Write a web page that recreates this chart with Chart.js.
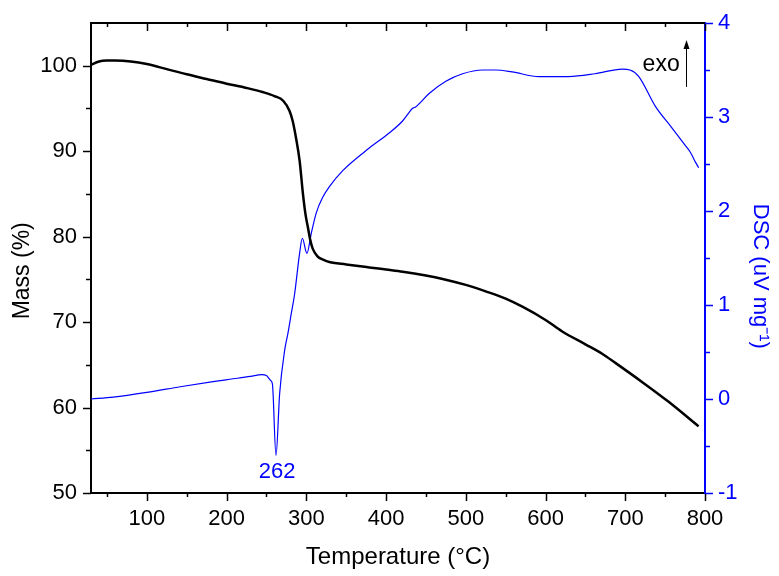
<!DOCTYPE html>
<html>
<head>
<meta charset="utf-8">
<script src="https://cdn.jsdelivr.net/npm/chart.js@4/dist/chart.umd.min.js"></script>
<style>
  html, body { margin: 0; padding: 0; background: #fff; }
  #wrap { width: 779px; height: 576px; }
</style>
</head>
<body>
<div id="wrap"><canvas id="chart"></canvas></div>
<script>
// TG curve (mass %)
const massTemp = [30, 40, 50, 60, 80, 100, 125, 150, 175, 200, 225, 246, 260, 271, 279, 283, 287, 291.6, 295.8, 299, 302, 305, 308, 314, 321, 330, 350, 379, 400, 421, 450, 471, 500, 525, 550, 571, 600, 621, 650, 671, 688, 721, 754, 792];
const massVal  = [100.1, 100.5, 100.6, 100.6, 100.5, 100.2, 99.6, 99.0, 98.45, 97.9, 97.4, 96.9, 96.45, 95.9, 94.7, 93.5, 91.6, 88.9, 85.0, 82.6, 81.1, 79.6, 78.6, 77.7, 77.3, 77.0, 76.75, 76.4, 76.15, 75.9, 75.45, 75.05, 74.35, 73.6, 72.75, 71.8, 70.25, 68.9, 67.4, 66.3, 65.2, 63.0, 60.7, 57.8];

// DSC curve (uV/mg)
const dscTemp = [30, 58, 100, 142, 183, 204, 230, 244, 250, 255, 257.5, 262, 266.6, 272.9, 277, 281.2, 285.4, 291.6, 295, 300.8, 306.2, 312.5, 320.8, 329, 345.7, 379, 404, 421, 429, 433, 437.5, 454, 475, 496, 521, 538, 558, 592, 629, 662, 696, 706, 717, 738, 758, 775, 782, 788, 792];
const dscVal  = [0.0, 0.02, 0.07, 0.13, 0.185, 0.21, 0.24, 0.26, 0.25, 0.20, 0.16, -0.6, 0.06, 0.52, 0.70, 0.91, 1.12, 1.55, 1.71, 1.55, 1.76, 1.98, 2.15, 2.26, 2.43, 2.67, 2.83, 2.96, 3.05, 3.09, 3.11, 3.25, 3.38, 3.46, 3.50, 3.50, 3.48, 3.43, 3.43, 3.46, 3.51, 3.50, 3.43, 3.11, 2.89, 2.70, 2.62, 2.52, 2.46];

// tick labels
const xTicks = [100, 200, 300, 400, 500, 600, 700, 800];
const massTicks = [50, 60, 70, 80, 90, 100];
const dscTicks = [-1, 0, 1, 2, 3, 4];

// annotations
const peakLabel = { text: '262', x: 263.5, y: -0.78 };
const exoLabel = { text: 'exo', x: 745, y: 3.555 };
const exoArrow = { x: 776.5, from: 3.32, to: 3.82 };

const BLUE = '#0000ff';
const FONT = 'Liberation Sans, Arial, sans-serif';

function toPoints(xs, ys) {
    return xs.map((x, i) => ({ x: x, y: ys[i] }));
}

function fixVertical(width) {
    return (s) => {
        s.width = width;
        s.paddingTop = 0;
        s.paddingBottom = 0;
    };
}

// outward/inward tick marks, frame and annotations
const decor = {
    id: 'decor',
    afterDraw(chart) {
        const ctx = chart.ctx;
        const a = chart.chartArea;
        const x = chart.scales.x, y = chart.scales.y, y2 = chart.scales.y2;
        ctx.save();
        ctx.lineWidth = 2;
        ctx.strokeStyle = '#000';
        // top frame
        ctx.beginPath();
        ctx.moveTo(a.left, a.top);
        ctx.lineTo(a.right, a.top);
        ctx.stroke();
        ctx.lineWidth = 1.5;
        for (let v = 50; v <= 800; v += 50) {
            const px = Math.round(x.getPixelForValue(v)) + 0.5;
            const len = v % 100 === 0 ? 8 : 4;
            ctx.beginPath();
            ctx.moveTo(px, a.bottom);
            ctx.lineTo(px, a.bottom + len);
            ctx.moveTo(px, a.top);
            ctx.lineTo(px, a.top + len);
            ctx.stroke();
        }
        for (let v = 50; v <= 100; v += 5) {
            const py = Math.round(y.getPixelForValue(v)) + 0.5;
            const len = v % 10 === 0 ? 8 : 5;
            ctx.beginPath();
            ctx.moveTo(a.left, py);
            ctx.lineTo(a.left - len, py);
            ctx.stroke();
        }
        ctx.strokeStyle = BLUE;
        for (let v = -1; v <= 4; v += 0.5) {
            const py = Math.round(y2.getPixelForValue(v)) + 0.5;
            const len = Number.isInteger(v) ? 8 : 5;
            ctx.beginPath();
            ctx.moveTo(a.right, py);
            ctx.lineTo(a.right + len, py);
            ctx.stroke();
        }
        // 262 label
        ctx.fillStyle = BLUE;
        ctx.font = '22px ' + FONT;
        ctx.textAlign = 'center';
        ctx.textBaseline = 'middle';
        ctx.fillText(peakLabel.text, x.getPixelForValue(peakLabel.x), y2.getPixelForValue(peakLabel.y));
        // exo arrow
        ctx.fillStyle = '#000';
        ctx.font = '23px ' + FONT;
        ctx.fillText(exoLabel.text, x.getPixelForValue(exoLabel.x), y2.getPixelForValue(exoLabel.y));
        const ax = Math.round(x.getPixelForValue(exoArrow.x)) + 0.5;
        const y0 = y2.getPixelForValue(exoArrow.from), y1 = y2.getPixelForValue(exoArrow.to);
        ctx.strokeStyle = '#000';
        ctx.lineWidth = 1;
        ctx.beginPath();
        ctx.moveTo(ax, y0);
        ctx.lineTo(ax, y1 + 6);
        ctx.stroke();
        ctx.beginPath();
        ctx.moveTo(ax, y1);
        ctx.lineTo(ax - 3, y1 + 9);
        ctx.lineTo(ax + 3, y1 + 9);
        ctx.closePath();
        ctx.fill();
        ctx.restore();
    }
};

new Chart(document.getElementById('chart'), {
    type: 'scatter',
    data: {
        datasets: [{
            label: 'Mass',
            data: toPoints(massTemp, massVal),
            showLine: true,
            borderColor: '#000',
            borderWidth: 2.5,
            pointRadius: 0,
            cubicInterpolationMode: 'monotone',
            yAxisID: 'y'
        }, {
            label: 'DSC',
            data: toPoints(dscTemp, dscVal),
            showLine: true,
            borderColor: BLUE,
            borderWidth: 1.2,
            pointRadius: 0,
            cubicInterpolationMode: 'monotone',
            yAxisID: 'y2'
        }]
    },
    options: {
        responsive: true,
        maintainAspectRatio: false,
        animation: false,
        layout: { padding: { top: 23, right: 0, left: 0, bottom: 0 } },
        plugins: {
            legend: { display: false },
            tooltip: { enabled: false }
        },
        scales: {
            x: {
                type: 'linear',
                min: 30,
                max: 800,
                afterBuildTicks: (s) => { s.ticks = xTicks.map(v => ({ value: v })); },
                afterFit: (s) => { s.height = 83; s.paddingLeft = 0; s.paddingRight = 0; },
                grid: { display: false, drawTicks: false },
                border: { display: true, color: '#000', width: 2 },
                ticks: { color: '#000', padding: 13, maxRotation: 0, font: { family: FONT, size: 22 } },
                title: {
                    display: true,
                    text: 'Temperature (°C)',
                    color: '#000',
                    font: { family: FONT, size: 24 },
                    padding: { top: 0, bottom: 4 }
                }
            },
            y: {
                type: 'linear',
                position: 'left',
                min: 50,
                max: 105,
                afterBuildTicks: (s) => { s.ticks = massTicks.map(v => ({ value: v })); },
                afterFit: fixVertical(91),
                grid: { display: false, drawTicks: false },
                border: { display: true, color: '#000', width: 2 },
                ticks: { color: '#000', padding: 14, font: { family: FONT, size: 22 } },
                title: {
                    display: true,
                    text: 'Mass (%)    ',
                    color: '#000',
                    font: { family: FONT, size: 23 },
                    padding: { top: 9, bottom: 0 }
                }
            },
            y2: {
                type: 'linear',
                position: 'right',
                min: -1,
                max: 4,
                afterBuildTicks: (s) => { s.ticks = dscTicks.map(v => ({ value: v })); },
                afterFit: fixVertical(74),
                grid: { display: false, drawTicks: false },
                border: { display: true, color: BLUE, width: 2 },
                ticks: { color: BLUE, padding: 13, font: { family: FONT, size: 22 } },
                title: {
                    display: true,
                    text: '      DSC (uV mg⁻¹)',
                    color: BLUE,
                    font: { family: FONT, size: 22 },
                    padding: { top: 6, bottom: 0 }
                }
            }
        }
    },
    plugins: [decor]
});
</script>
</body>
</html>
